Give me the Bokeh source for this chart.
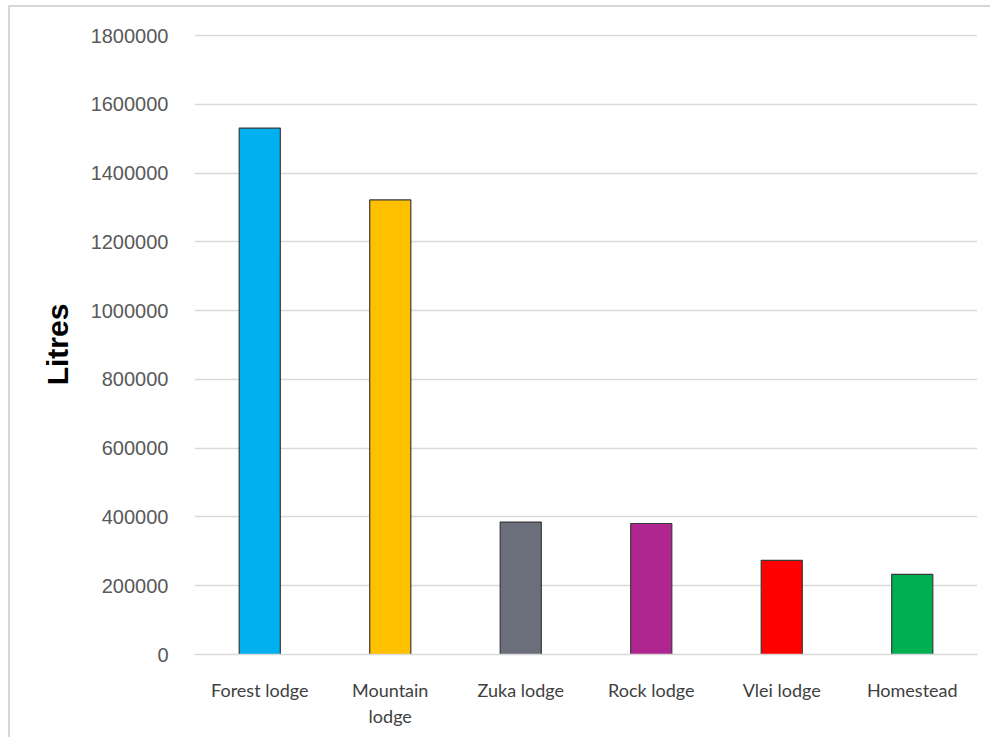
from bokeh.plotting import figure
from bokeh.models import ColumnDataSource, NumeralTickFormatter, FixedTicker
from bokeh.embed import file_html
from bokeh.resources import INLINE

lodges = ["Forest lodge", "Mountain\nlodge", "Zuka lodge", "Rock lodge", "Vlei lodge", "Homestead"]
litres = [1531000, 1322000, 385000, 381000, 274000, 233000]
colors = ["#00B0F0", "#FFC000", "#6B6F7B", "#B02690", "#FF0000", "#00B050"]
y_ticks = [0, 200000, 400000, 600000, 800000, 1000000, 1200000, 1400000, 1600000, 1800000]

src = ColumnDataSource(dict(lodge=lodges, litres=litres, color=colors))

# figure placed inside a light grey panel border starting at (8, 5)
p = figure(x_range=lodges, y_range=(0, 1803000), width=982, height=732,
           output_backend="svg", toolbar_location=None,
           min_border_left=184, min_border_right=15, min_border_top=27, min_border_bottom=85)
p.margin = (5, 0, 0, 8)
p.styles = {"border-left": "2px solid #d6d6d6", "border-top": "2px solid #d6d6d6"}

p.vbar(x="lodge", top="litres", width=0.315, source=src, fill_color="color",
       line_color="#3a3a3a", line_width=1.2)

p.outline_line_color = None
p.background_fill_color = "white"
p.border_fill_color = "white"

p.xgrid.grid_line_color = None
p.ygrid.grid_line_color = "#d9d9d9"
p.ygrid.grid_line_width = 1.5

p.yaxis.ticker = FixedTicker(ticks=y_ticks)
p.yaxis.formatter = NumeralTickFormatter(format="0")
p.yaxis.axis_line_color = None
p.yaxis.major_tick_line_color = None
p.yaxis.minor_tick_line_color = None
p.yaxis.major_label_text_font = "Liberation Sans"
p.yaxis.major_label_text_font_size = "20px"
p.yaxis.major_label_text_color = "#595959"
p.yaxis.major_label_standoff = 20
p.yaxis.axis_label = "Litres"
p.yaxis.axis_label_text_font = "Liberation Sans"
p.yaxis.axis_label_text_font_style = "bold"
p.yaxis.axis_label_text_font_size = "30px"
p.yaxis.axis_label_text_color = "black"
p.yaxis.axis_label_standoff = 14

p.xaxis.axis_line_color = "#d9d9d9"
p.xaxis.axis_line_width = 1.5
p.xaxis.major_tick_line_color = None
p.xaxis.minor_tick_line_color = None
p.xaxis.major_label_text_font = "Lato"
p.xaxis.major_label_text_font_size = "18px"
p.xaxis.major_label_text_color = "#404040"
p.xaxis.major_label_standoff = 18

open("out.html", "w").write(file_html(p, INLINE))
